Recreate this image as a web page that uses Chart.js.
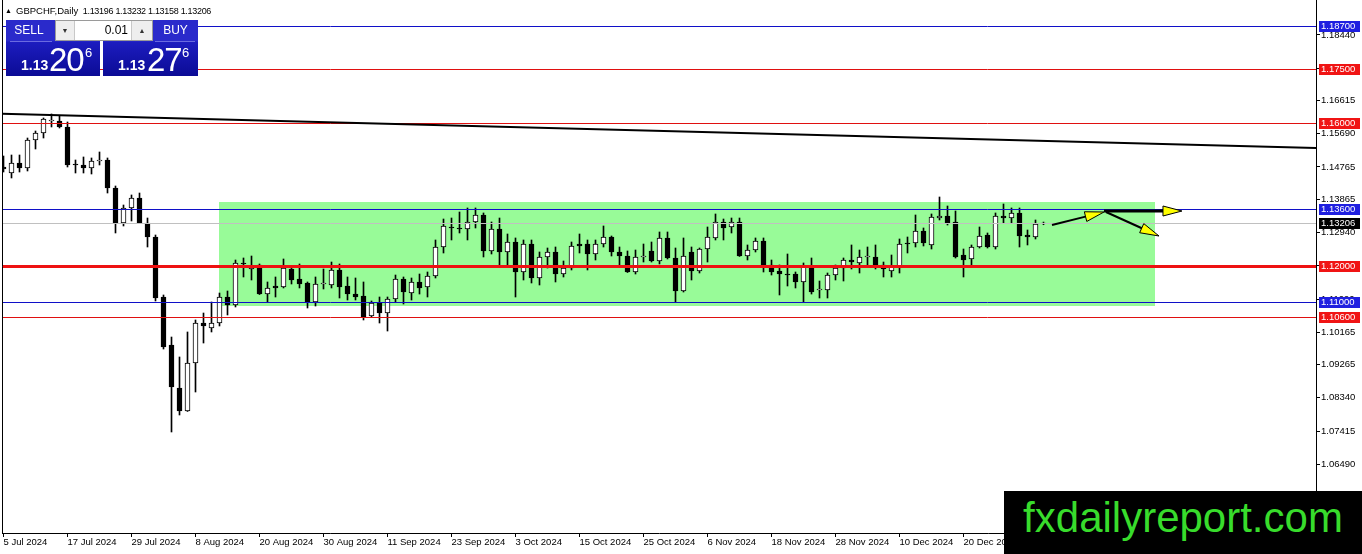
<!DOCTYPE html>
<html>
<head>
<meta charset="utf-8">
<title>GBPCHF, Daily</title>
<script src="https://cdn.jsdelivr.net/npm/chart.js@4.4.1/dist/chart.umd.min.js"></script>
<style>
  html, body { margin: 0; padding: 0; background: #fff; }
  #wrap { position: relative; width: 1362px; height: 554px; overflow: hidden; font-family: "Liberation Sans", Arial, sans-serif; }
  #chart { position: absolute; left: 0; top: 0; }
  #title { position: absolute; left: 5px; top: 5px; font-size: 9px; line-height: 12px; color: #000; white-space: pre; letter-spacing: -0.3px; }
  #title .tri { font-size: 7px; vertical-align: 1px; }
  #title .sym { font-size: 9.5px; letter-spacing: 0; }
  .blk { position: absolute; top: 20px; height: 56px; background: linear-gradient(#2a2acb 0, #2a2acb 21px, #1c1cbf 22px, #0b0b95 100%); }
  .blk .lbl { position: absolute; top: 0; height: 21px; line-height: 21px; font-size: 12px; color: #fff; text-align: center; }
  .blk .line { position: absolute; top: 21px; height: 1px; background: #6a6ae0; }
  .blk span { position: absolute; color: #fff; line-height: 1; white-space: nowrap; }
  .blk .sm { font-size: 14px; font-weight: bold; top: 38px; }
  .blk .big { font-size: 33px; top: 23px; letter-spacing: -1px; }
  .blk .sup { font-size: 13px; top: 26px; }
  #lot { position: absolute; left: 55px; top: 20px; width: 96px; height: 19px; background: #fff; border: 1px solid #9a9a9a; font-size: 12px; }
  #lot .btn { position: absolute; top: 0; width: 18px; height: 19px; background: #eeeeee; color: #333; font-size: 7px; line-height: 19px; text-align: center; }
  #lot .val { position: absolute; left: 18px; width: 54px; top: 0; line-height: 19px; text-align: right; color: #000; }
  #brand { position: absolute; left: 1004px; top: 491px; width: 358px; height: 63px; background: #000; color: #38dc2c; font-size: 42px; line-height: 53px; text-align: center; }
</style>
</head>
<body>
<div id="wrap">
  <canvas id="chart" width="1362" height="554"></canvas>
  <div id="title"><span class="tri">▲</span>  <span class="sym">GBPCHF,Daily</span>  1.13196 1.13232 1.13158 1.13206</div>

  <div class="blk" style="left:6px; width:94px;">
    <div class="lbl" style="left:0; width:46px;">SELL</div>
    <div class="line" style="left:4px; width:42px;"></div>
    <span class="sm" style="left:15px;">1.13</span>
    <span class="big" style="left:43px;">20</span>
    <span class="sup" style="left:79px;">6</span>
  </div>
  <div class="blk" style="left:103px; width:95px;">
    <div class="lbl" style="left:50px; width:45px;">BUY</div>
    <div class="line" style="left:52px; width:40px;"></div>
    <span class="sm" style="left:15px;">1.13</span>
    <span class="big" style="left:44px;">27</span>
    <span class="sup" style="left:79px;">6</span>
  </div>
  <div id="lot">
    <div class="btn" style="left:0; border-right:1px solid #c8c8c8;">▼</div>
    <div class="val">0.01</div>
    <div class="btn" style="right:0; width:20px; border-left:1px solid #c8c8c8;">▲</div>
  </div>

  <div id="brand">fxdailyreport.com</div>
</div>

<script>
// daily candles, GBPCHF, from 5 Jul 2024 (index 0), one per trading day
const opens = [
  1.14765, 1.14598, 1.14876, 1.14737, 1.15517, 1.15712, 1.16046, 1.16046, 1.15879, 1.14849,
  1.14821, 1.14737, 1.14932, 1.14960, 1.14181, 1.13206, 1.13624, 1.13902, 1.13206, 1.12816,
  1.11146, 1.09810, 1.08613, 1.07972, 1.09308, 1.10422, 1.10283, 1.10422, 1.11146, 1.10923,
  1.12093, 1.11925, 1.12037, 1.11229, 1.11452, 1.11424, 1.11925, 1.11647, 1.11536, 1.11007,
  1.11508, 1.11480, 1.11898, 1.11452, 1.11229, 1.11174, 1.10617, 1.10979, 1.10700, 1.11090,
  1.11647, 1.11257, 1.11564, 1.11424, 1.11731, 1.12538, 1.13095, 1.13067, 1.13039, 1.13234,
  1.13429, 1.12427, 1.13039, 1.12399, 1.12677, 1.11842, 1.12621, 1.11675, 1.12260, 1.12399,
  1.11786, 1.11953, 1.12621, 1.12621, 1.12343, 1.12621, 1.12816, 1.12399, 1.12287, 1.11842,
  1.12260, 1.12427, 1.12148, 1.12789, 1.12232, 1.11313, 1.12399, 1.11870, 1.12482, 1.12789,
  1.13234, 1.13095, 1.13234, 1.12287, 1.12454, 1.12705, 1.12037, 1.11870, 1.11786, 1.11786,
  1.11564, 1.12009, 1.11341, 1.11341, 1.11758, 1.11953, 1.12176, 1.12093, 1.12260, 1.12260,
  1.12037, 1.11870, 1.11981, 1.12649, 1.12649, 1.12983, 1.12594, 1.13345, 1.13401, 1.13234,
  1.12315, 1.12204, 1.12538, 1.12872, 1.12538, 1.13401, 1.13345, 1.13485, 1.12872, 1.12816,
  1.13196
];
const highs = [
  1.15071, 1.15099, 1.15099, 1.15572, 1.15767, 1.16129, 1.16241, 1.16185, 1.16018, 1.14960,
  1.15044, 1.15016, 1.15183, 1.15016, 1.14236, 1.13707, 1.13986, 1.14041, 1.13345, 1.12872,
  1.11202, 1.10032, 1.09476, 1.10172, 1.10506, 1.10700, 1.11007, 1.11257, 1.11313, 1.12176,
  1.12232, 1.12287, 1.12065, 1.11564, 1.11703, 1.12204, 1.12009, 1.12065, 1.11564, 1.11703,
  1.11925, 1.12120, 1.12065, 1.11703, 1.11675, 1.11564, 1.11035, 1.11146, 1.11146, 1.11758,
  1.11703, 1.11675, 1.11786, 1.11842, 1.12733, 1.13317, 1.13345, 1.13512, 1.13624, 1.13624,
  1.13485, 1.13234, 1.13345, 1.12900, 1.12789, 1.12733, 1.12733, 1.12399, 1.12510, 1.12538,
  1.12148, 1.12677, 1.12900, 1.12733, 1.12733, 1.13123, 1.12844, 1.12538, 1.12427, 1.12454,
  1.12621, 1.12677, 1.12956, 1.12956, 1.12510, 1.12789, 1.12538, 1.12510, 1.13095, 1.13457,
  1.13317, 1.13345, 1.13345, 1.12594, 1.12789, 1.12789, 1.12176, 1.12037, 1.12343, 1.11842,
  1.12093, 1.12232, 1.11591, 1.11814, 1.12037, 1.12232, 1.12594, 1.12454, 1.12538, 1.12594,
  1.12120, 1.12315, 1.12761, 1.12816, 1.13429, 1.13067, 1.13457, 1.13930, 1.13679, 1.13540,
  1.12482, 1.12594, 1.13095, 1.12928, 1.13485, 1.13735, 1.13624, 1.13624, 1.13011, 1.13290,
  1.13232
];
const lows = [
  1.14626, 1.14459, 1.14626, 1.14654, 1.15266, 1.15572, 1.15879, 1.15851, 1.14765, 1.14598,
  1.14598, 1.14570, 1.14821, 1.14041, 1.12928, 1.13123, 1.13262, 1.13190, 1.12538, 1.11035,
  1.09698, 1.07388, 1.07861, 1.07960, 1.08501, 1.09865, 1.10172, 1.10339, 1.10645, 1.10868,
  1.11703, 1.11619, 1.11215, 1.11007, 1.11146, 1.11397, 1.11508, 1.11397, 1.10840, 1.10895,
  1.11369, 1.11397, 1.11118, 1.11062, 1.11062, 1.10506, 1.10589, 1.10422, 1.10199, 1.11007,
  1.10951, 1.11062, 1.11229, 1.11146, 1.11675, 1.12371, 1.12733, 1.12928, 1.12733, 1.13067,
  1.12260, 1.12343, 1.11981, 1.11981, 1.11146, 1.11619, 1.11536, 1.11480, 1.11953, 1.11564,
  1.11703, 1.11898, 1.12371, 1.11898, 1.12176, 1.12538, 1.12287, 1.11981, 1.11828, 1.11786,
  1.12120, 1.12120, 1.12065, 1.12204, 1.11007, 1.11285, 1.11619, 1.11814, 1.12120, 1.12733,
  1.12733, 1.12928, 1.12275, 1.12176, 1.12399, 1.11842, 1.11758, 1.11202, 1.11452, 1.11397,
  1.11007, 1.11229, 1.11118, 1.11118, 1.11619, 1.11591, 1.11925, 1.11814, 1.12009, 1.11925,
  1.11703, 1.11703, 1.11814, 1.12371, 1.12538, 1.12566, 1.12482, 1.13290, 1.13150, 1.12232,
  1.11703, 1.11981, 1.12510, 1.12510, 1.12482, 1.13206, 1.13206, 1.12538, 1.12594, 1.12761,
  1.13158
];
const closes = [
  1.14709, 1.14876, 1.14737, 1.15517, 1.15712, 1.16101, 1.16074, 1.15879, 1.14821, 1.14821,
  1.14737, 1.14932, 1.14960, 1.14181, 1.13206, 1.13624, 1.13902, 1.13206, 1.12816, 1.11118,
  1.09754, 1.08640, 1.07972, 1.09308, 1.10422, 1.10339, 1.10422, 1.11146, 1.10923, 1.12093,
  1.12065, 1.12009, 1.11229, 1.11397, 1.11397, 1.11953, 1.11619, 1.11508, 1.11007, 1.11508,
  1.11536, 1.11898, 1.11424, 1.11229, 1.11146, 1.10589, 1.10979, 1.10700, 1.11090, 1.11647,
  1.11285, 1.11564, 1.11397, 1.11731, 1.12538, 1.13123, 1.13067, 1.13039, 1.13234, 1.13429,
  1.12427, 1.13039, 1.12399, 1.12677, 1.11842, 1.12621, 1.11675, 1.12260, 1.12399, 1.11786,
  1.11953, 1.12566, 1.12566, 1.12343, 1.12621, 1.12816, 1.12399, 1.12287, 1.11842, 1.12260,
  1.12287, 1.12148, 1.12789, 1.12232, 1.11313, 1.12287, 1.11870, 1.12482, 1.12816, 1.13234,
  1.13067, 1.13234, 1.12287, 1.12454, 1.12705, 1.12009, 1.11842, 1.11786, 1.11758, 1.11564,
  1.12009, 1.11285, 1.11369, 1.11758, 1.11953, 1.12176, 1.12120, 1.12260, 1.12288, 1.12009,
  1.11925, 1.11981, 1.12621, 1.12621, 1.12983, 1.12649, 1.13373, 1.13401, 1.13206, 1.12260,
  1.12176, 1.12538, 1.12844, 1.12538, 1.13401, 1.13345, 1.13485, 1.12844, 1.12816, 1.13178,
  1.13206
];

// date axis: label every 8 candles
const dateTickIdx = [0, 8, 16, 24, 32, 40, 48, 56, 64, 72, 80, 88, 96, 104, 112, 120];
const dateTickLabels = ['5 Jul 2024', '17 Jul 2024', '29 Jul 2024', '8 Aug 2024', '20 Aug 2024',
  '30 Aug 2024', '11 Sep 2024', '23 Sep 2024', '3 Oct 2024', '15 Oct 2024', '25 Oct 2024',
  '6 Nov 2024', '18 Nov 2024', '28 Nov 2024', '10 Dec 2024', '20 Dec 2024'];

// price axis
const priceTicks = [1.18440, 1.17515, 1.16615, 1.15690, 1.14765, 1.13865, 1.12940,
  1.12015, 1.11090, 1.10165, 1.09265, 1.08340, 1.07415, 1.06490];
const priceMin = 1.04576;
const priceMax = 1.19414;
const idxMin = -0.1875;
const idxMax = 164.0625;

// horizontal levels drawn on the chart
const levelPrices = [1.18700, 1.17500, 1.16000, 1.13600, 1.13206, 1.12000, 1.11000, 1.10600];
const levelKinds = ['blue', 'red', 'red', 'blue', 'bid', 'redThick', 'blue', 'red'];

// range rectangle and trend line
const rangeIdx = [26.95, 143.95];
const rangePrices = [1.13791, 1.10904];
const trendIdx = [-0.2, 164.1];
const trendPrices = [1.16246, 1.15294];

// arrows: [fromIdx, fromPrice, toIdx, toPrice]
const arrows = [
  [131.06, 1.13150, 137.56, 1.13512],
  [137.56, 1.13540, 147.31, 1.13540],
  [137.81, 1.13512, 144.44, 1.12844]
];
const arrowWidths = [2, 3, 2];

const kindStyle = {
  blue: { line: '#1010c8', width: 1, box: '#1f1fe0' },
  red: { line: '#e01010', width: 1, box: '#f01414' },
  redThick: { line: '#ee1111', width: 3, box: '#f01414' },
  bid: { line: '#c0c0c0', width: 1, box: '#000000' }
};

const axisFont = { family: 'Liberation Sans', size: 9.5 };

function drawArrow(ctx, x1, y1, x2, y2, w) {
  const ang = Math.atan2(y2 - y1, x2 - x1);
  const len = 19, half = 5;
  const bx = x2 - len * Math.cos(ang), by = y2 - len * Math.sin(ang);
  ctx.strokeStyle = '#000';
  ctx.lineWidth = w;
  ctx.beginPath();
  ctx.moveTo(x1, y1);
  ctx.lineTo(bx + 2 * Math.cos(ang), by + 2 * Math.sin(ang));
  ctx.stroke();
  ctx.beginPath();
  ctx.moveTo(x2, y2);
  ctx.lineTo(bx + half * Math.sin(ang), by - half * Math.cos(ang));
  ctx.lineTo(bx - half * Math.sin(ang), by + half * Math.cos(ang));
  ctx.closePath();
  ctx.fillStyle = '#ffff00';
  ctx.fill();
  ctx.lineWidth = 1;
  ctx.stroke();
}

const overlay = {
  id: 'overlay',
  beforeDatasetsDraw(chart) {
    const { ctx, chartArea: a, scales: { x, y } } = chart;
    ctx.save();
    ctx.beginPath();
    ctx.rect(a.left, a.top, a.right - a.left, a.bottom - a.top);
    ctx.clip();
    const x0 = Math.round(x.getPixelForValue(rangeIdx[0]));
    const x1 = Math.round(x.getPixelForValue(rangeIdx[1]));
    const y0 = Math.round(y.getPixelForValue(rangePrices[0]));
    const y1 = Math.round(y.getPixelForValue(rangePrices[1]));
    ctx.fillStyle = '#98fb98';
    ctx.fillRect(x0, y0, x1 - x0, y1 - y0);
    ctx.restore();
  },
  afterDatasetsDraw(chart) {
    const { ctx, chartArea: a, scales: { x, y } } = chart;
    ctx.save();
    ctx.beginPath();
    ctx.rect(a.left, a.top, a.right - a.left, a.bottom - a.top);
    ctx.clip();

    levelPrices.forEach((p, i) => {
      const st = kindStyle[levelKinds[i]];
      const py = Math.round(y.getPixelForValue(p)) + (st.width % 2 ? 0.5 : 0);
      ctx.strokeStyle = st.line;
      ctx.lineWidth = st.width;
      ctx.beginPath();
      ctx.moveTo(a.left, py);
      ctx.lineTo(a.right, py);
      ctx.stroke();
    });

    ctx.strokeStyle = '#000';
    ctx.lineWidth = 2;
    ctx.beginPath();
    ctx.moveTo(x.getPixelForValue(trendIdx[0]), y.getPixelForValue(trendPrices[0]));
    ctx.lineTo(x.getPixelForValue(trendIdx[1]), y.getPixelForValue(trendPrices[1]));
    ctx.stroke();

    arrows.forEach((ar, i) => {
      drawArrow(ctx,
        x.getPixelForValue(ar[0]), y.getPixelForValue(ar[1]),
        x.getPixelForValue(ar[2]), y.getPixelForValue(ar[3]), arrowWidths[i]);
    });
    ctx.restore();

    // left frame line
    ctx.save();
    ctx.strokeStyle = '#000';
    ctx.lineWidth = 1;
    ctx.beginPath();
    ctx.moveTo(a.left + 0.5, a.top);
    ctx.lineTo(a.left + 0.5, a.bottom);
    ctx.stroke();
    ctx.restore();
  },
  afterDraw(chart) {
    const { ctx, chartArea: a, scales: { y } } = chart;
    ctx.save();
    ctx.font = '9.5px "Liberation Sans"';
    ctx.textBaseline = 'middle';
    ctx.textAlign = 'left';
    levelPrices.forEach((p, i) => {
      const st = kindStyle[levelKinds[i]];
      const py = Math.round(y.getPixelForValue(p));
      ctx.fillStyle = st.box;
      ctx.fillRect(a.right + 3, py - 5, 41, 11);
      ctx.fillStyle = '#fff';
      ctx.fillText(p.toFixed(5), a.right + 5, py + 0.5);
    });
    ctx.restore();
  }
};

const idx = opens.map((_, i) => i);
const bodyData = idx.map(i => ({ x: i, y: [opens[i], closes[i]] }));
const wickData = idx.map(i => ({ x: i, y: [lows[i], highs[i]] }));
const bodyColors = idx.map(i => (closes[i] >= opens[i] ? '#ffffff' : '#000000'));

new Chart(document.getElementById('chart'), {
  type: 'bar',
  data: {
    datasets: [
      {
        label: 'body',
        data: bodyData,
        backgroundColor: bodyColors,
        borderColor: '#000000',
        borderWidth: 1,
        borderSkipped: false,
        barThickness: 5,
        grouped: false,
        order: 0
      },
      {
        label: 'wick',
        data: wickData,
        backgroundColor: '#000000',
        borderWidth: 0,
        barThickness: 1,
        grouped: false,
        order: 1
      }
    ]
  },
  options: {
    responsive: false,
    animation: false,
    layout: { padding: { left: 2, top: 0, right: 0, bottom: 0 } },
    plugins: { legend: { display: false }, tooltip: { enabled: false } },
    scales: {
      x: {
        type: 'linear',
        min: idxMin,
        max: idxMax,
        offset: false,
        afterBuildTicks: s => { s.ticks = dateTickIdx.map(v => ({ value: v })); },
        afterFit: s => { s.height = 21; s.paddingLeft = 0; s.paddingRight = 0; },
        grid: { offset: false, drawOnChartArea: false, drawTicks: true, tickLength: 4, color: '#000' },
        border: { display: true, color: '#000', width: 1 },
        ticks: {
          autoSkip: false,
          maxRotation: 0,
          align: 'start',
          padding: 0,
          color: '#000',
          font: axisFont,
          callback: (v, i) => dateTickLabels[i]
        }
      },
      y: {
        type: 'linear',
        position: 'right',
        min: priceMin,
        max: priceMax,
        afterBuildTicks: s => { s.ticks = priceTicks.map(v => ({ value: v })); },
        afterFit: s => { s.width = 46; s.paddingTop = 0; s.paddingBottom = 0; },
        grid: { drawOnChartArea: false, drawTicks: true, tickLength: 4, color: '#000' },
        border: { display: true, color: '#000', width: 1 },
        ticks: {
          padding: 1,
          color: '#000',
          font: axisFont,
          callback: v => v.toFixed(5)
        }
      }
    }
  },
  plugins: [overlay]
});
</script>
</body>
</html>
